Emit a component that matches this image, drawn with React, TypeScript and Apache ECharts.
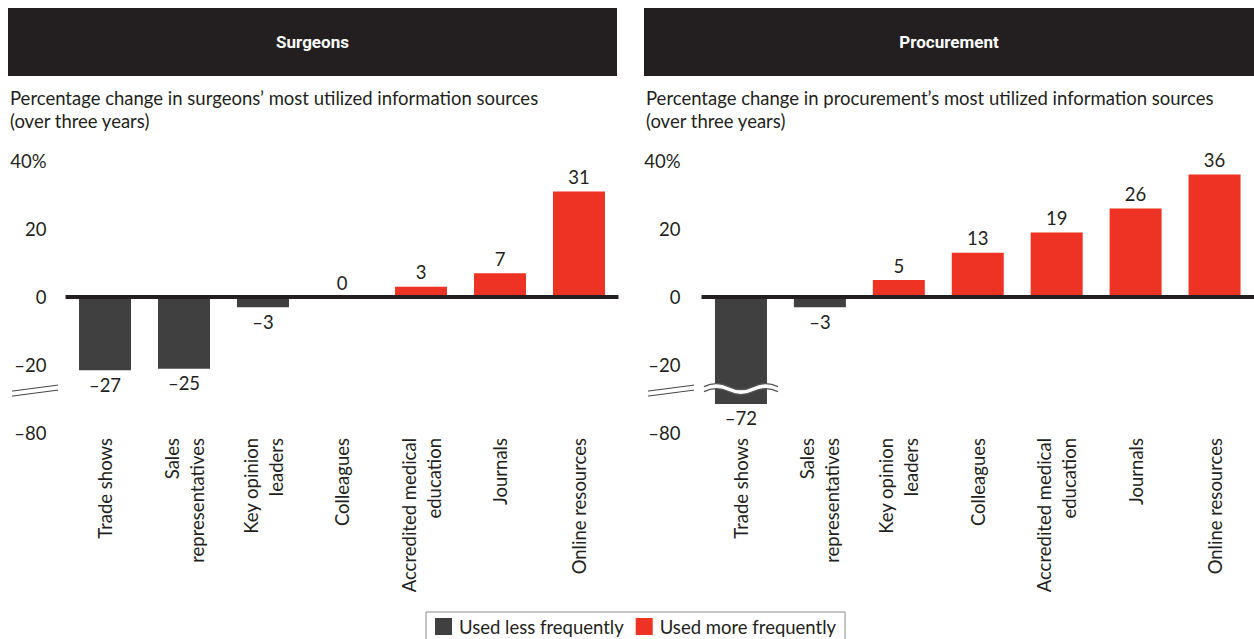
import React, { useEffect, useRef } from "react";
import * as echarts from "echarts";

const categories = [
  "Trade shows",
  "Sales\nrepresentatives",
  "Key opinion\nleaders",
  "Colleagues",
  "Accredited medical\neducation",
  "Journals",
  "Online resources",
];
const surgeonsValues = [-27, -25, -3, 0, 3, 7, 31];
const procurementValues = [-72, -3, 5, 13, 19, 26, 36];
const yTicks = [-40, -20, 0, 20, 40];
const yTickLabels = ["–80", "–20", "0", "20", "40%"];
const panelTitles = ["Surgeons", "Procurement"];
const panelSubtitles = [
  "Percentage change in surgeons’ most utilized information sources\n(over three years)",
  "Percentage change in procurement’s most utilized information sources\n(over three years)",
];
const legendNames = ["Used less frequently", "Used more frequently"];

const GRAY = "#404040";
const RED = "#ee3224";
const DARK = "#231f20";
const TEXT = "#231f20";
const FONT = "Lato, 'Noto Sans', sans-serif";
const FS = 18.5;

// broken axis: values below -20 are compressed
const BREAK_AT = -20;
const BREAK_K = 0.22;
const plotValue = (v: number) => (v >= BREAK_AT ? v : BREAK_AT + (v - BREAK_AT) * BREAK_K);
const fmt = (v: number) => (v < 0 ? "–" + Math.abs(v) : String(v));

const GRID_TOP = 161;
const GRID_H = 272;
const GRID_W = 553;
const gridLefts = [65.5, 701.5];
const panelLefts = [8, 644];
const panelWidths = [609, 610];

echarts.graphic.registerShape(
  "waveBand",
  echarts.graphic.extendPath(
    "M -37 -2.5 Q -24.7 -8.5 -12.3 -2.5 Q 0 3.5 12.3 -2.5 Q 24.7 -8.5 37 -2.5 L 37 2.5 Q 24.7 -3.5 12.3 2.5 Q 0 8.5 -12.3 2.5 Q -24.7 -3.5 -37 2.5 Z",
    {}
  )
);
echarts.graphic.registerShape(
  "waveLines",
  echarts.graphic.extendPath(
    "M -37 -2.5 Q -24.7 -8.5 -12.3 -2.5 Q 0 3.5 12.3 -2.5 Q 24.7 -8.5 37 -2.5 M -37 2.5 Q -24.7 -3.5 -12.3 2.5 Q 0 8.5 12.3 2.5 Q 24.7 -3.5 37 2.5",
    {}
  )
);

function makeSeries(values: number[], g: number) {
  const labelFmt = (p: any) => (p.data && p.data.real !== undefined ? fmt(p.data.real) : "");
  return [
    {
      name: legendNames[0],
      type: "bar",
      xAxisIndex: g,
      yAxisIndex: g,
      barWidth: 52,
      barGap: "-100%",
      itemStyle: { color: GRAY },
      data: values.map((v) => (v < 0 ? { value: plotValue(v), real: v } : "-")),
      label: {
        show: true,
        position: "bottom",
        distance: 5,
        fontSize: FS,
        fontFamily: FONT,
        color: TEXT,
        formatter: labelFmt,
      },
      markLine: {
        silent: true,
        symbol: ["none", "none"],
        label: { show: false },
        lineStyle: { color: DARK, width: 4, type: "solid" },
        data: [{ yAxis: 0 }],
      },
    },
    {
      name: legendNames[1],
      type: "bar",
      xAxisIndex: g,
      yAxisIndex: g,
      barWidth: 52,
      barGap: "-100%",
      itemStyle: { color: RED },
      data: values.map((v) => (v >= 0 ? { value: plotValue(v), real: v } : "-")),
      label: {
        show: true,
        position: "top",
        distance: 5,
        fontSize: FS,
        fontFamily: FONT,
        color: TEXT,
        formatter: labelFmt,
      },
    },
  ];
}

export default function App() {
  const ref = useRef<HTMLDivElement>(null);
  useEffect(() => {
    if (!ref.current) return;
    const chart = echarts.init(ref.current, null, { renderer: "svg" });
    const grids = gridLefts.map((l) => ({ left: l, top: GRID_TOP, width: GRID_W, height: GRID_H }));
    const xAxes = gridLefts.map((_, g) => ({
      type: "category",
      gridIndex: g,
      data: categories,
      position: "bottom",
      axisLine: { show: false, onZero: false },
      axisTick: { show: false },
      axisLabel: {
        interval: 0,
        rotate: 90,
        margin: 5,
        fontSize: FS,
        lineHeight: 25,
        fontFamily: FONT,
        color: TEXT,
      },
    }));
    const yAxes = gridLefts.map((_, g) => ({
      type: "value",
      gridIndex: g,
      min: -40,
      max: 40,
      interval: 20,
      splitLine: { show: false },
      axisLine: { show: false },
      axisTick: { show: false },
      axisLabel: {
        margin: g === 0 ? 19 : 21,
        fontSize: FS,
        fontFamily: FONT,
        color: TEXT,
        formatter: (v: number) => {
          const i = yTicks.indexOf(v);
          return i >= 0 ? yTickLabels[i] : "";
        },
      },
    }));

    chart.setOption({
      animation: false,
      grid: grids,
      xAxis: xAxes,
      yAxis: yAxes,
      legend: {
        data: legendNames,
        left: 426,
        top: 612,
        borderColor: "#8a8a8a",
        borderWidth: 1,
        padding: [5, 9, 5, 9],
        itemWidth: 17,
        itemHeight: 17,
        itemGap: 12,
        icon: "rect",
        selectedMode: false,
        textStyle: { fontSize: FS, fontFamily: FONT, color: TEXT, padding: [0, 0, 0, 2] },
      },
      series: [...makeSeries(surgeonsValues, 0), ...makeSeries(procurementValues, 1)],
    });

    // decorations (headers, subtitles, axis breaks)
    const breakPlot = -26.5;
    const graphics: any[] = [];
    panelLefts.forEach((pl, g) => {
      graphics.push({
        type: "rect",
        shape: { x: pl, y: 8, width: panelWidths[g], height: 68 },
        style: { fill: DARK },
        silent: true,
      });
      graphics.push({
        type: "text",
        style: {
          text: panelTitles[g],
          x: pl + panelWidths[g] / 2,
          y: 42,
          textAlign: "center",
          textVerticalAlign: "middle",
          fontSize: 17,
          fontWeight: "bold",
          fontFamily: "Roboto, 'Liberation Sans Narrow', sans-serif",
          fill: "#ffffff",
        },
        silent: true,
      });
      graphics.push({
        type: "text",
        style: {
          text: panelSubtitles[g],
          x: pl + 2,
          y: 86,
          textAlign: "left",
          textVerticalAlign: "top",
          fontSize: FS,
          lineHeight: 23,
          fontFamily: FONT,
          fill: TEXT,
        },
        silent: true,
      });
      const yPix = chart.convertToPixel({ yAxisIndex: g } as any, breakPlot) as number;
      [0, 5].forEach((off) => {
        graphics.push({
          type: "line",
          shape: { x1: pl + 4, y1: yPix + 4 + off, x2: pl + 50, y2: yPix - 2 + off },
          style: { stroke: "#444", lineWidth: 1 },
          silent: true,
        });
      });
      const values = g === 0 ? surgeonsValues : procurementValues;
      values.forEach((v, i) => {
        if (v < -40) {
          const xPix = chart.convertToPixel({ xAxisIndex: g } as any, categories[i]) as number;
          graphics.push({
            type: "waveBand",
            x: xPix,
            y: yPix + 2,
            style: { fill: "#ffffff", stroke: "none" },
            silent: true,
            z: 100,
          });
          graphics.push({
            type: "waveLines",
            x: xPix,
            y: yPix + 2,
            style: { fill: "none", stroke: "#555", lineWidth: 1.2 },
            silent: true,
            z: 101,
          });
        }
      });
    });
    chart.setOption({ graphic: graphics });

    return () => chart.dispose();
  }, []);
  return (
    <div
      ref={ref}
      style={{ position: "fixed", left: 0, top: 0, width: 1254, height: 639, background: "#fff" }}
    />
  );
}
